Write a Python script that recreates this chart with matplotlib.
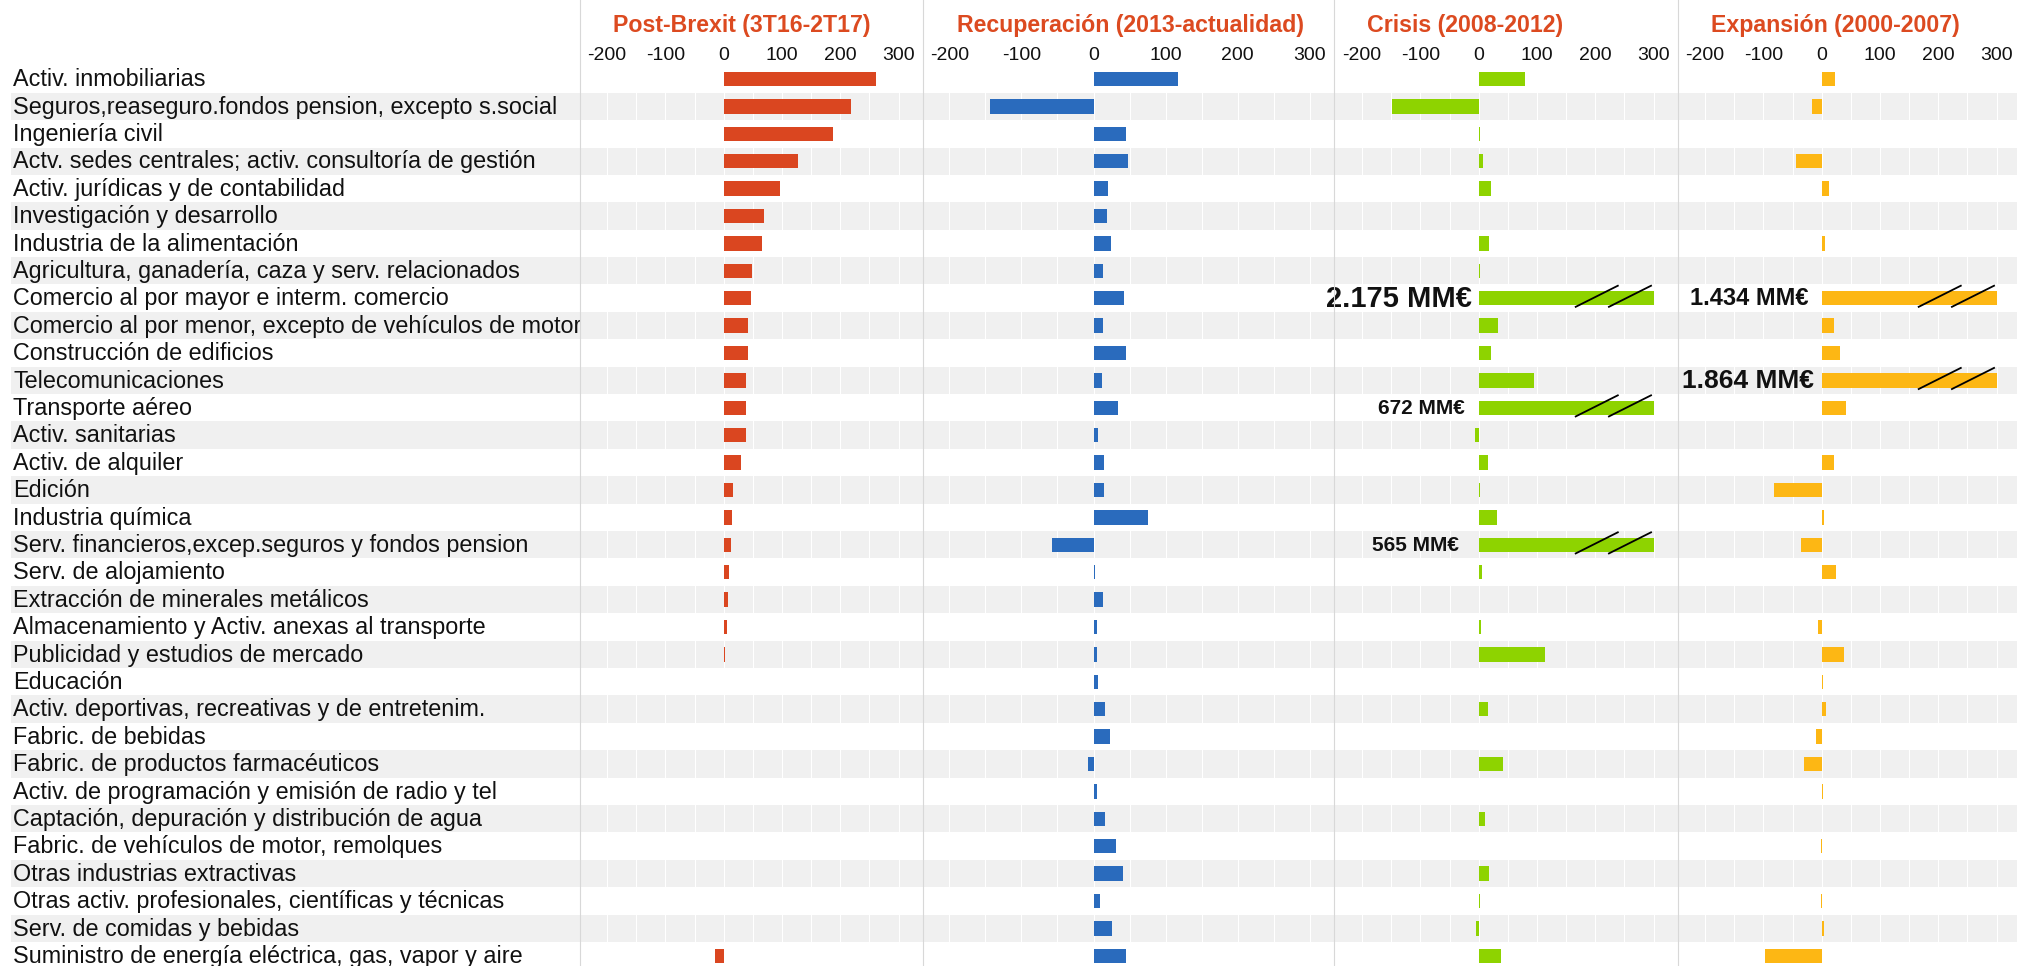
import matplotlib
matplotlib.use('Agg')
import matplotlib.pyplot as plt
from matplotlib.lines import Line2D
from matplotlib.ticker import MultipleLocator
import numpy as np

plt.rcParams['font.family'] = ['Liberation Sans', 'DejaVu Sans']
plt.rcParams['axes.unicode_minus'] = False

# ---------------- data ----------------
categories = [
    "Activ. inmobiliarias",
    "Seguros,reaseguro.fondos pension, excepto s.social",
    "Ingeniería civil",
    "Actv. sedes centrales; activ. consultoría de gestión",
    "Activ. jurídicas y de contabilidad",
    "Investigación y desarrollo",
    "Industria de la alimentación",
    "Agricultura, ganadería, caza y serv. relacionados",
    "Comercio al por mayor e interm. comercio",
    "Comercio al por menor, excepto de vehículos de motor",
    "Construcción de edificios",
    "Telecomunicaciones",
    "Transporte aéreo",
    "Activ. sanitarias",
    "Activ. de alquiler",
    "Edición",
    "Industria química",
    "Serv. financieros,excep.seguros y fondos pension",
    "Serv. de alojamiento",
    "Extracción de minerales metálicos",
    "Almacenamiento y Activ. anexas al transporte",
    "Publicidad y estudios de mercado",
    "Educación",
    "Activ. deportivas, recreativas y de entretenim.",
    "Fabric. de bebidas",
    "Fabric. de productos farmacéuticos",
    "Activ. de programación y emisión de radio y tel",
    "Captación, depuración y distribución de agua",
    "Fabric. de vehículos de motor, remolques",
    "Otras industrias extractivas",
    "Otras activ. profesionales, científicas y técnicas",
    "Serv. de comidas y bebidas",
    "Suministro de energía eléctrica, gas, vapor y aire",
]

titles = ["Post-Brexit (3T16-2T17)", "Recuperación (2013-actualidad)",
          "Crisis (2008-2012)", "Expansión (2000-2007)"]
tick_values = [-200, -100, 0, 100, 200, 300]

post_brexit = [262, 218, 188, 127, 97, 69, 65, 49, 47, 42, 41, 38, 38, 38, 29, 16,
               13.5, 13, 9, 8, 6, 3, 0.7, 0, 0.2, 0, 0, 0, 0, 0, -0.3, -0.3, -15]
recuperacion = [117, -144, 45, 48, 20, 18.5, 24, 12.7, 42, 13.3, 44.5, 11.5, 34.6, 5.8,
                14, 15, 76, -58, 1.5, 12.7, 4.6, 5.2, 5.8, 15.6, 22.5, -8, 4.6, 15.6,
                30.6, 40.4, 9.2, 25.4, 44.5]
crisis = [79.6, -149, 1.5, 7.8, 21.8, 0, 17.9, 2.3, 2175, 33.5, 21.8, 95.2, 672, -7,
          15.6, 2.3, 32, 565, 6.2, 0, 3.9, 113, 0.8, 16.4, 0.8, 42, 0.3, 10, 0.3, 17.9,
          2.3, -3.9, 39]
expansion = [23.6, -17.3, 0, -43.3, 11.8, 0, 5.5, 0, 1434, 21.3, 31.5, 1864, 41, 0.5,
             20.5, -82, 3.9, -36, 25, 0.5, -6.3, 38.6, 2.4, 7.9, -9.4, -30, 1.5, 0.3,
             -1.5, 0.5, -0.5, 4.7, -98]

series = [post_brexit, recuperacion, crisis, expansion]

# ---------------- styles / layout ----------------
colors = ['#da4620', '#2a6bbd', '#8ed300', '#fdb714']
title_color = '#dc4a20'
BAND = '#f0f0f0'
BREAK = 300  # bars are cut at this value and marked as broken

W, H = 2017, 966
TOP, ROW = 65.3, 27.4
panel_px = [(580, 922.7), (922.7, 1333.5), (1333.5, 1677.5), (1677.5, 2017)]
panel_xlim = [(-246.5, 341.3), (-237.2, 333.3), (-249.1, 341.0), (-247.3, 335.0)]
title_x = [741.7, 1130, 1465, 1835]
# (panel, row) -> (fontsize pt, gap px)
break_label_style = {(2, 8): (21, 7), (2, 12): (15, 14), (2, 17): (15, 20),
                     (3, 8): (17, 13), (3, 11): (19, 8)}

fig = plt.figure(figsize=(W / 100, H / 100), dpi=100)
n = len(categories)
BOTTOM = TOP + n * ROW
rows = np.arange(n)


def fx(px):
    return px / W


def fy(py):
    return 1 - py / H


def add_axes(x0, x1):
    return fig.add_axes([fx(x0), fy(BOTTOM), fx(x1) - fx(x0), fy(TOP) - fy(BOTTOM)])


# label column
axl = add_axes(11, 580)
axl.set_xlim(11, 580)
axl.set_ylim(n - 0.5, -0.5)
axl.axis('off')
for i in rows[1::2]:
    axl.axhspan(i - 0.5, i + 0.5, color=BAND, lw=0, zorder=0)
for i, c in enumerate(categories):
    axl.text(13, i + 0.26, c, fontsize=16.8, va='baseline', ha='left', color='#111111')

for k in range(4):
    ax = add_axes(*panel_px[k])
    ax.set_xlim(*panel_xlim[k])
    ax.set_ylim(n - 0.5, -0.5)
    ax.patch.set_alpha(0)
    for s in ax.spines.values():
        s.set_visible(False)
    for i in rows[1::2]:
        ax.axhspan(i - 0.5, i + 0.5, color=BAND, lw=0, zorder=0)
    ax.set_xticks(tick_values)
    ax.xaxis.set_minor_locator(MultipleLocator(50))
    ax.grid(True, which='both', axis='x', color='white', lw=0.8)
    ax.set_axisbelow(True)
    ax.set_yticks([])
    ax.tick_params(axis='x', which='both', bottom=False, labelbottom=False,
                   top=False, labeltop=True, length=0, pad=3.8, labelsize=14,
                   labelcolor='#111111')
    for t in ax.xaxis.get_major_ticks():
        t.label2.set_va('baseline')

    vals = np.array(series[k], float)
    ax.barh(rows, np.minimum(vals, BREAK), height=0.53, color=colors[k], lw=0, zorder=2)

    for i in np.where(vals > BREAK)[0]:
        for xa, xb in [(165, 240), (222, 297)]:
            ax.plot([xa, xb], [i + 0.33, i - 0.47], color='black', lw=1.3, zorder=3,
                    solid_capstyle='butt')
        fs, gap = break_label_style.get((k, i), (16, 10))
        label = f"{int(vals[i]):,}".replace(",", ".") + " MM€"
        ax.annotate(label, xy=(0, i), xytext=(-gap * 0.72, -0.3 * fs),
                    textcoords='offset points', ha='right', va='baseline',
                    fontsize=fs, fontweight='bold', color='#111111', zorder=4)

    fig.text(fx(title_x[k]), fy(31.7), titles[k], ha='center', va='baseline',
             fontsize=16.7, fontweight='bold', color=title_color)

# panel separators
for xb in [580, 922.7, 1333.5, 1677.5]:
    fig.add_artist(Line2D([fx(xb), fx(xb)], [0, 1], color='#d8d8d8', lw=0.8,
                          transform=fig.transFigure, zorder=1))

fig.savefig('out.png', dpi=100)
